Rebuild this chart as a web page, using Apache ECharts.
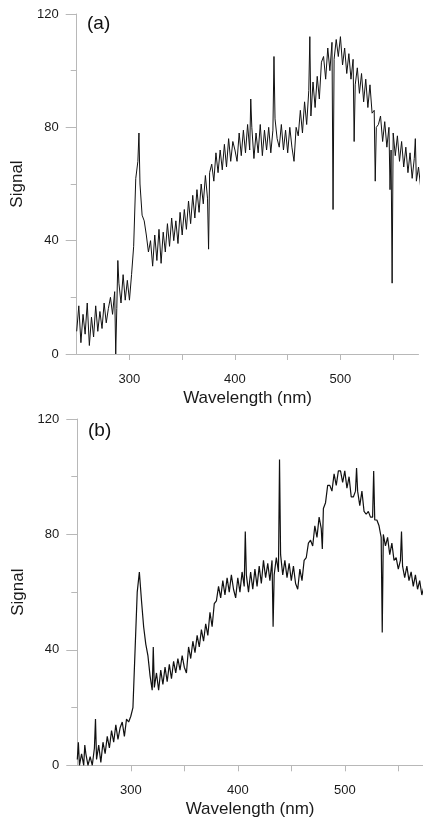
<!DOCTYPE html>
<html>
<head>
<meta charset="utf-8">
<script src="https://cdn.jsdelivr.net/npm/echarts@6/dist/echarts.min.js"></script>
<style>html,body{margin:0;padding:0;background:#fff}#c{width:423px;height:820px}</style>
</head>
<body>
<div id="c"></div>
<script>
// Panel (a)
var wlA = [
250,252,254,256,258,260,262,264,266,268,
270,272,274,276,278,280,282,284,286,287,
288,289,290,292,294,296,298,300,302,304,
306,308,309,310,312,314,316,318,320,322,
324,326,328,330,332,334,336,338,340,342,
344,346,348,350,352,354,356,358,360,362,
364,366,368,370,372,374,375,376,378,380,
382,384,386,388,390,392,394,396,398,400,
402,404,406,408,410,412,414,415,416,418,
420,422,424,426,428,430,432,434,436,437,
438,440,442,444,446,448,450,452,454,456,
458,460,462,464,466,468,470,471,472,474,
476,478,480,482,484,486,488,490,492,493,
494,496,498,500,502,504,506,508,510,512,
513,514,516,518,520,522,524,526,528,530,
532,533,534,536,538,540,542,544,546,547,
548,549,550,552,554,556,558,560,562,564,
566,568,570,571,572,574,576,578];
var sigA = [
8,17,4,14,7,18,3,13,6,17,
8,15,9,18,11,16,20,14,22,0,
16,33,25,18,28,19,26,19,28,38,
62,68,78,60,49,47,42,36,40,31,
42,33,44,32,43,36,46,38,48,40,
47,39,50,42,51,44,54,46,56,48,
58,50,60,53,63,55,37,64,67,61,
71,64,72,65,74,66,76,68,75,72,
68,78,70,79,71,81,72,90,80,69,
78,71,81,70,79,72,80,71,79,105,
83,76,73,81,72,79,71,80,73,68,
80,77,86,78,89,81,93,112,84,96,
87,98,90,103,105,97,108,100,110,51,
104,111,105,112,102,108,99,106,97,104,
75,95,101,92,99,89,97,87,95,85,
86,61,80,81,84,75,82,73,80,58,
72,25,78,70,77,68,75,66,73,64,
71,62,69,76,61,66,59,63];

// Panel (b)
var wlB = [
250,251,252,254,256,257,258,260,262,264,
266,267,268,270,272,274,276,278,280,282,
284,286,288,290,292,294,296,298,300,302,
304,306,308,310,312,314,316,318,320,321,
322,324,326,328,330,332,334,336,338,340,
342,344,346,348,350,352,354,356,358,360,
362,364,366,368,370,372,374,376,378,380,
382,384,386,388,390,392,394,396,398,400,
402,404,406,407,408,410,412,414,416,418,
420,422,424,426,428,430,432,433,434,436,
438,439,440,442,444,446,448,450,452,454,
456,458,460,462,464,466,468,470,472,474,
476,478,479,480,482,484,486,488,490,492,
494,496,498,500,502,504,506,508,510,511,
512,514,516,518,520,522,524,526,527,528,
530,532,534,535,536,538,540,542,544,546,
548,550,552,553,554,556,558,560,562,564,
566,568,570,572,574];
var sigB = [
2,8,0,4,0,7,4,0,3,0,
6,16,2,7,1,8,4,10,6,12,
8,14,9,13,15,10,16,15,17,20,
40,60,67,57,48,42,38,31,26,41,
27,32,26,33,28,34,29,35,30,36,
32,37,33,38,34,32,41,37,43,39,
45,41,47,43,49,45,53,48,56,57,
62,58,64,59,65,60,66,61,58,65,
60,67,62,81,66,60,67,61,68,62,
69,63,71,65,70,64,71,48,66,72,
67,106,73,66,71,65,70,64,69,63,
61,68,64,71,72,77,78,76,83,79,
86,82,75,89,91,97,97,95,101,97,
102,102,98,102,96,100,93,93,95,103,
95,90,95,88,87,88,86,86,102,85,
85,83,79,46,80,76,79,73,77,71,
72,68,71,81,69,65,69,64,67,62,
66,61,64,59,62];

var xTicks = [300,350,400,450,500,550];
var xLabels = [300,400,500];

function pairs(xs, ys){ var out=[]; for (var i=0;i<xs.length;i++) out.push([xs[i], ys[i]]); return out; }

var FONT = '"Liberation Sans", Arial, sans-serif';
var axisGrey = '#b8b8b8';

function xAx(gi, max){
  return {
    gridIndex: gi, type: 'value', min: 250, max: max,
    axisLine: {show: true, lineStyle: {color: axisGrey, width: 1}},
    axisTick: {show: true, length: 6, customValues: xTicks, lineStyle: {color: axisGrey}},
    axisLabel: {customValues: xLabels, fontSize: 13, color: '#1a1a1a', fontFamily: FONT, margin: 19},
    splitLine: {show: false},
    name: 'Wavelength (nm)', nameLocation: 'middle', nameGap: 36,
    nameTextStyle: {fontSize: 17, color: '#1a1a1a', fontFamily: FONT}
  };
}
function yAx(gi){
  return {
    gridIndex: gi, type: 'value', min: 0, max: 120, interval: 40,
    axisLine: {show: true, lineStyle: {color: axisGrey, width: 1}},
    axisTick: {show: true, length: 11, lineStyle: {color: axisGrey}},
    minorTick: {show: true, splitNumber: 2, length: 6, lineStyle: {color: axisGrey}},
    axisLabel: {fontSize: 13, color: '#1a1a1a', fontFamily: FONT, margin: 18},
    splitLine: {show: false},
    name: 'Signal', nameLocation: 'middle', nameGap: 43, nameRotate: 90,
    nameTextStyle: {fontSize: 17, color: '#1a1a1a', fontFamily: FONT}
  };
}

var chart = echarts.init(document.getElementById('c'), null, {renderer: 'canvas'});
chart.setOption({
  animation: false,
  backgroundColor: '#fff',
  grid: [
    {left: 76.7, top: 14, width: 341.8, height: 340},
    {left: 77.3, top: 419, width: 345.6, height: 346.3}
  ],
  xAxis: [xAx(0, 574), xAx(1, 573)],
  yAxis: [yAx(0), yAx(1)],
  graphic: [
    {type: 'text', left: 87, top: 14, style: {text: '(a)', fill: '#111', font: '19px ' + FONT}},
    {type: 'text', left: 88, top: 421, style: {text: '(b)', fill: '#111', font: '19px ' + FONT}}
  ],
  series: [
    {type: 'line', xAxisIndex: 0, yAxisIndex: 0, data: pairs(wlA, sigA), showSymbol: false, clip: false,
     lineStyle: {color: '#111', width: 1}},
    {type: 'line', xAxisIndex: 1, yAxisIndex: 1, data: pairs(wlB, sigB), showSymbol: false, clip: false,
     lineStyle: {color: '#111', width: 1.2}}
  ]
});
</script>
</body>
</html>
